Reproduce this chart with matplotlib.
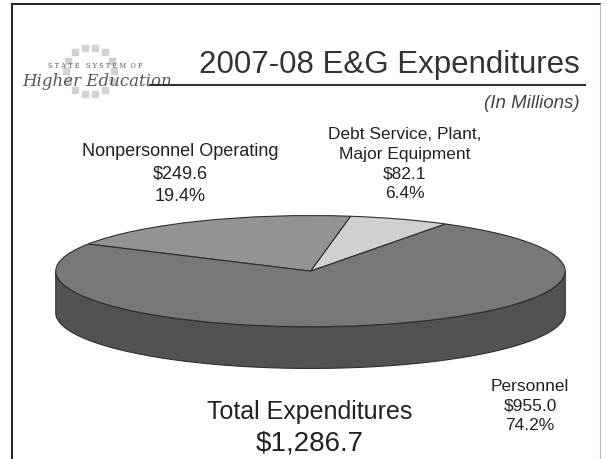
import numpy as np
import matplotlib
matplotlib.use("Agg")
import matplotlib.pyplot as plt

# ---- data ----
categories = ["Debt Service, Plant,\nMajor Equipment", "Nonpersonnel Operating", "Personnel"]
values = [82.1, 249.6, 955.0]
total_label = "$1,286.7"
title = "2007-08 E&G Expenditures"
subtitle = "(In Millions)"

top_colors = ["#d0d0d0", "#939393", "#787878"]
side_colors = ["#9a9a9a", "#666666", "#525252"]
edge = "#2e2e2e"
FONT = ["Liberation Sans", "DejaVu Sans"]

W, H = 607, 460
fig = plt.figure(figsize=(W / 100, H / 100), dpi=100)
fig.patch.set_facecolor("white")

# background axes in pixel coordinates
bg = fig.add_axes([0, 0, 1, 1])
bg.set_xlim(0, W)
bg.set_ylim(H, 0)
bg.axis("off")

# frame
bg.plot([12, 600], [5, 5], color="#222222", lw=1.4)
bg.plot([12, 12], [5, 460], color="#222222", lw=1.4)
bg.plot([600, 600], [5, 460], color="#bbbbbb", lw=0.8)

# logo
ang = np.linspace(0, 2 * np.pi, 14, endpoint=False)
bg.scatter(90 + 24 * np.cos(ang), 72 + 24 * np.sin(ang), s=22, marker="s",
           color="#d2d2d2", zorder=1)
bg.text(48, 66, "S T A T E   S Y S T E M  O F", fontsize=4.8, color="#555555",
        ha="left", va="center", family="DejaVu Serif", zorder=2)
bg.text(22, 82, "Higher Education", fontsize=12, color="#555555", style="italic",
        ha="left", va="center", family="DejaVu Serif", zorder=2)

# title
bg.text(580, 65, title, fontsize=22.5, color="#333333", ha="right", va="center",
        family=FONT)
bg.plot([150, 585], [86, 86], color="#333333", lw=1.5)
bg.text(580, 104, subtitle, fontsize=13.5, color="#444444", ha="right", va="center",
        style="italic", family=FONT)

# ---- 3D pie ----
left_px, right_px, top_px = 55, 566, 216
b_px = 56
depth_px = 42
bottom_px = top_px + 2 * b_px + depth_px
d = depth_px / b_px

ax = fig.add_axes([left_px / W, (H - bottom_px) / H,
                   (right_px - left_px) / W, (bottom_px - top_px) / H])
start = 58.0
fracs = np.array(values) / np.sum(values)
bounds = start + 360 * np.concatenate([[0], np.cumsum(fracs)])

# side walls (only front half is visible: angles 180..360)
for i in range(len(values)):
    t1, t2 = bounds[i], bounds[i + 1]
    for k in range(-1, 2):
        lo = max(t1, 180 + 360 * k)
        hi = min(t2, 360 + 360 * k)
        if hi > lo:
            t = np.radians(np.linspace(lo, hi, 200))
            xs = np.concatenate([np.cos(t), np.cos(t[::-1])])
            ys = np.concatenate([np.sin(t), np.sin(t[::-1]) - d])
            ax.fill(xs, ys, color=side_colors[i], ec=edge, lw=0.8, zorder=1)

ax.pie(values, startangle=start, counterclock=True, colors=top_colors,
       wedgeprops=dict(edgecolor=edge, linewidth=0.8), radius=1.0)
ax.set_aspect("auto")
ax.set_xlim(-1.003, 1.003)
ax.set_ylim(-1 - d - 0.01, 1.01)
ax.axis("off")

# ---- labels ----
pcts = [100 * v / sum(values) for v in values]
label_pos = [(405, 164), (180, 174), (530, 406)]
label_sizes = [12.5, 13, 12.5]
for (x, y), name, v, p, fs in zip(label_pos, categories, values, pcts, label_sizes):
    bg.text(x, y, f"{name}\n${v:,.1f}\n{p:.1f}%", ha="center", va="center",
            fontsize=fs, color="#222222", linespacing=1.4, family=FONT)

bg.text(310, 412, "Total Expenditures", ha="center", va="center", fontsize=18,
        color="#222222", family=FONT)
bg.text(310, 444, total_label, ha="center", va="center", fontsize=20,
        color="#222222", family=FONT)

fig.savefig("out.png", dpi=100, facecolor="white")
